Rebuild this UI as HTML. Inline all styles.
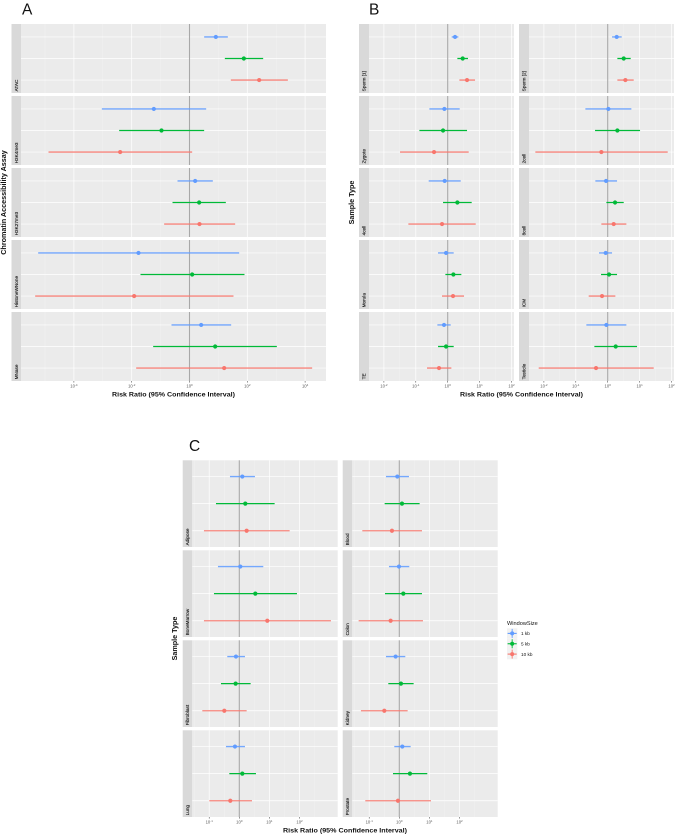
<!DOCTYPE html>
<html lang="en">
<head>
<meta charset="utf-8">
<title>Risk ratio forest plots</title>
<style>
html,body{margin:0;padding:0;background:#fff;}
#figure{display:block;width:676px;height:836px;filter:blur(0.3px);font-family:"Liberation Sans",sans-serif;}
</style>
</head>
<body>
<svg id="figure" xmlns="http://www.w3.org/2000/svg" width="676" height="836" viewBox="0 0 676 836">
  <text x="22" y="14.3" font-size="15.5" fill="#111">A</text>
  <text x="369" y="14.3" font-size="15.5" fill="#111">B</text>
  <text x="189" y="450.8" font-size="15.5" fill="#111">C</text>

  <text x="173.5" y="396.6" font-size="6.4" font-weight="bold" text-anchor="middle" textLength="123" lengthAdjust="spacingAndGlyphs" fill="#111">Risk Ratio (95% Confidence Interval)</text>
  <text x="521.5" y="396.6" font-size="6.4" font-weight="bold" text-anchor="middle" textLength="123" lengthAdjust="spacingAndGlyphs" fill="#111">Risk Ratio (95% Confidence Interval)</text>
  <text x="345" y="832.6" font-size="6.4" font-weight="bold" text-anchor="middle" textLength="124" lengthAdjust="spacingAndGlyphs" fill="#111">Risk Ratio (95% Confidence Interval)</text>

  <text transform="translate(6.2,202.5) rotate(-90)" font-size="7.2" font-weight="bold" text-anchor="middle" fill="#111">Chromatin Accessibility Assay</text>
  <text transform="translate(354,202.5) rotate(-90)" font-size="7.2" font-weight="bold" text-anchor="middle" fill="#111">Sample Type</text>
  <text transform="translate(177,638.5) rotate(-90)" font-size="7.2" font-weight="bold" text-anchor="middle" fill="#111">Sample Type</text>

  <g id="plots"></g>

  <g>
    <text x="507" y="625" font-size="5.6" fill="#111">WindowSize</text>
    <g id="legend-keys"></g>
  </g>
</svg>
<script>
// Series (log10 risk ratio; order within each panel: 1 kb, 5 kb, 10 kb)
const seriesNames = ['1 kb', '5 kb', '10 kb'];
const seriesColors = ['#619CFF', '#00BA38', '#F8766D'];

// Plot A
const aLabels = ['ATAC', 'H3K4me3', 'H3K27me3', 'HistoneWNone', 'MNase'];
const aLow = [[0.507, 1.223, 1.430], [-3.033, -2.434, -4.879], [-0.415, -0.588, -0.877], [-5.236, -1.696, -5.340], [-0.623, -1.257, -1.845]];
const aEst = [[0.911, 1.880, 2.411], [-1.234, -0.969, -2.399], [0.196, 0.334, 0.346], [-1.765, 0.092, -1.915], [0.404, 0.888, 1.200]];
const aHigh = [[1.326, 2.549, 3.403], [0.577, 0.507, 0.092], [0.807, 1.257, 1.580], [1.719, 1.903, 1.522], [1.442, 3.022, 4.244]];
const aTicks = [-4, -2, 0, 2, 4];

// Plot B
const bLabels = ['Sperm [1]', 'Sperm [2]', 'Zygote', '2cell', '4cell', '8cell', 'Morula', 'ICM', 'TE', 'Testicle'];
const bLow = [[0.125, 0.303, 0.366], [0.136, 0.303, 0.303], [-0.575, -0.888, -1.494], [-0.700, -0.397, -2.268], [-0.596, -0.146, -1.233], [-0.387, -0.042, -0.199], [-0.303, -0.073, -0.178], [-0.272, -0.209, -0.596], [-0.324, -0.303, -0.648], [-0.669, -0.418, -2.163]];
const bEst = [[0.230, 0.470, 0.606], [0.282, 0.502, 0.554], [-0.104, -0.146, -0.428], [0.021, 0.303, -0.199], [-0.094, 0.303, -0.178], [-0.052, 0.230, 0.188], [-0.052, 0.178, 0.167], [-0.063, 0.042, -0.178], [-0.115, -0.052, -0.272], [-0.042, 0.251, -0.366]];
const bHigh = [[0.334, 0.637, 0.857], [0.439, 0.721, 0.815], [0.376, 0.606, 0.658], [0.742, 1.014, 1.881], [0.408, 0.752, 0.878], [0.293, 0.502, 0.585], [0.188, 0.428, 0.512], [0.136, 0.293, 0.240], [0.094, 0.188, 0.115], [0.585, 0.920, 1.442]];
const bTicks = [-2, -1, 0, 1, 2];

// Plot C
const cLabels = ['Adipose', 'Blood', 'BoneMarrow', 'Colon', 'Fibroblast', 'Kidney', 'Lung', 'Prostate'];
const cLow = [[-0.310, -0.775, -1.174], [-0.443, -0.487, -1.229], [-0.709, -0.842, -1.174], [-0.343, -0.476, -1.351], [-0.399, -0.609, -1.229], [-0.443, -0.365, -1.274], [-0.443, -0.332, -0.997], [-0.166, -0.210, -1.130]];
const cEst = [[0.100, 0.199, 0.244], [-0.066, 0.089, -0.244], [0.033, 0.532, 0.930], [-0.011, 0.133, -0.288], [-0.111, -0.122, -0.498], [-0.122, 0.055, -0.498], [-0.144, 0.100, -0.299], [0.100, 0.354, -0.044]];
const cHigh = [[0.520, 1.174, 1.672], [0.321, 0.675, 0.753], [0.797, 1.916, 3.045], [0.332, 0.753, 0.786], [0.188, 0.377, 0.244], [0.199, 0.476, 0.277], [0.188, 0.554, 0.421], [0.377, 0.930, 1.052]];
const cTicks = [-1, 0, 1, 2];

const NS = 'http://www.w3.org/2000/svg';
const plotsRoot = document.getElementById('plots');
const legendRoot = document.getElementById('legend-keys');

function make(tag, parent, attrs) {
  const el = document.createElementNS(NS, tag);
  for (const k in attrs) el.setAttribute(k, attrs[k]);
  parent.appendChild(el);
  return el;
}
function slug(s) {
  return s.toLowerCase().replace(/[^a-z0-9]+/g, '-').replace(/^-|-$/g, '');
}

function drawPlot(cfg) {
  const plot = make('g', plotsRoot, {});
  
  
  const nRows = Math.ceil(cfg.labels.length / cfg.colLefts.length);
  cfg.labels.forEach(function (label, idx) {
    const col = idx % cfg.colLefts.length;
    const row = Math.floor(idx / cfg.colLefts.length);
    const stripX = cfg.colLefts[col];
    const px0 = stripX + cfg.stripW;
    const px1 = px0 + cfg.panelW;
    const top = cfg.rowTop + row * cfg.rowStep;
    const bottom = top + cfg.panelH;
    const zeroX = cfg.zeros[col];
    const xScale = function (v) { return zeroX + v * cfg.perDecade; };
    const yScale = function (i) { return top + cfg.panelH * (0.6 + i) / 3.2; };

    const g = make('g', plot, {});
    
    

    const strip = make('rect', g, { x: stripX, y: top, width: cfg.stripW, height: cfg.panelH, fill: '#d9d9d9' });
    
    

    const stripText = make('text', g, {
      transform: 'translate(' + (stripX + cfg.stripW / 2 + 1.7) + ',' + (bottom - 1.6) + ') rotate(-90)',
      'font-size': 4.7, fill: '#111', stroke: '#111', 'stroke-width': 0.12
    });
    stripText.textContent = label;
    
    

    const bg = make('rect', g, { x: px0, y: top, width: cfg.panelW, height: cfg.panelH, fill: '#ebebeb' });
    
    

    // minor vertical grid
    const step = cfg.ticks[1] - cfg.ticks[0];
    const startMinor = cfg.ticks[0] - step * 3.5;
    for (let k = 0; k < 24; k++) {
      const mv = startMinor + k * step;
      const mx = xScale(mv);
      if (mx > px0 && mx < px1) {
        const minor = make('line', g, { x1: mx, x2: mx, y1: top, y2: bottom, stroke: '#f7f7f7', 'stroke-width': 0.35 });
        
        
      }
    }
    // major vertical grid
    cfg.ticks.forEach(function (t) {
      const mx = xScale(t);
      if (mx < px1 + 0.5) {
        const major = make('line', g, { x1: mx, x2: mx, y1: top, y2: bottom, stroke: '#ffffff', 'stroke-width': 0.7 });
        
        
      }
    });
    // horizontal grid
    seriesNames.forEach(function (s, i) {
      const hl = make('line', g, { x1: px0, x2: px1, y1: yScale(i), y2: yScale(i), stroke: '#ffffff', 'stroke-width': 0.7 });
      
      
    });
    // reference line at RR = 1
    const ref = make('line', g, { x1: xScale(0), x2: xScale(0), y1: top, y2: bottom, stroke: '#a8a8a8', 'stroke-width': 1.1 });
    
    

    // series
    seriesNames.forEach(function (s, i) {
      const ci = make('line', g, {
        x1: xScale(cfg.low[idx][i]), x2: xScale(cfg.high[idx][i]),
        y1: yScale(i), y2: yScale(i),
        stroke: seriesColors[i], 'stroke-width': 1.3, 'stroke-opacity': i === 1 ? 1 : 0.88
      });
      
      
      const pt = make('circle', g, { cx: xScale(cfg.est[idx][i]), cy: yScale(i), r: 2.1, fill: seriesColors[i] });
      
      
    });

    // x axis on bottom row
    if (row === nRows - 1) {
      cfg.ticks.forEach(function (t) {
        const tx = xScale(t);
        const tick = make('line', g, { x1: tx, x2: tx, y1: bottom, y2: bottom + 1.6, stroke: '#333', 'stroke-width': 0.5 });
        
        
        const lab = make('text', g, { x: tx, y: bottom + 6.6, 'font-size': 4.2, 'text-anchor': 'middle', fill: '#5a5a5a' });
        
        
        lab.appendChild(document.createTextNode('10'));
        const sup = make('tspan', lab, { dy: -1.5, 'font-size': 2.9 });
        sup.textContent = String(t);
      });
    }
  });
}

drawPlot({
  id: 'a', labels: aLabels, low: aLow, est: aEst, high: aHigh, ticks: aTicks,
  colLefts: [11.5], stripW: 9.5, panelW: 305, rowTop: 24, rowStep: 72, panelH: 69,
  zeros: [189.5], perDecade: 28.9
});
drawPlot({
  id: 'b', labels: bLabels, low: bLow, est: bEst, high: bHigh, ticks: bTicks,
  colLefts: [359, 519], stripW: 10, panelW: 145, rowTop: 24, rowStep: 72, panelH: 69,
  zeros: [447.7, 607.7], perDecade: 31.9
});
drawPlot({
  id: 'c', labels: cLabels, low: cLow, est: cEst, high: cHigh, ticks: cTicks,
  colLefts: [182.7, 342.7], stripW: 9.6, panelW: 145.4, rowTop: 460.3, rowStep: 90, panelH: 86.7,
  zeros: [239.3, 399.3], perDecade: 30.1
});

// legend keys
seriesNames.forEach(function (s, i) {
  const ky = 633.4 + i * 10.35;
  const key = make('g', legendRoot, {});
  
  
  make('rect', key, { x: 507, y: ky - 5.1, width: 10.3, height: 10.3, fill: '#f2f2f2' });
  make('line', key, { x1: 507.6, x2: 516.7, y1: ky, y2: ky, stroke: seriesColors[i], 'stroke-width': 1.1 });
  make('line', key, { x1: 512.15, x2: 512.15, y1: ky - 4.5, y2: ky + 4.5, stroke: seriesColors[i], 'stroke-width': 0.9 });
  make('circle', key, { cx: 512.15, cy: ky, r: 2, fill: seriesColors[i] });
  const t = make('text', key, { x: 521, y: ky + 1.7, 'font-size': 4.7, fill: '#111' });
  t.textContent = s;
});
</script>
</body>
</html>
